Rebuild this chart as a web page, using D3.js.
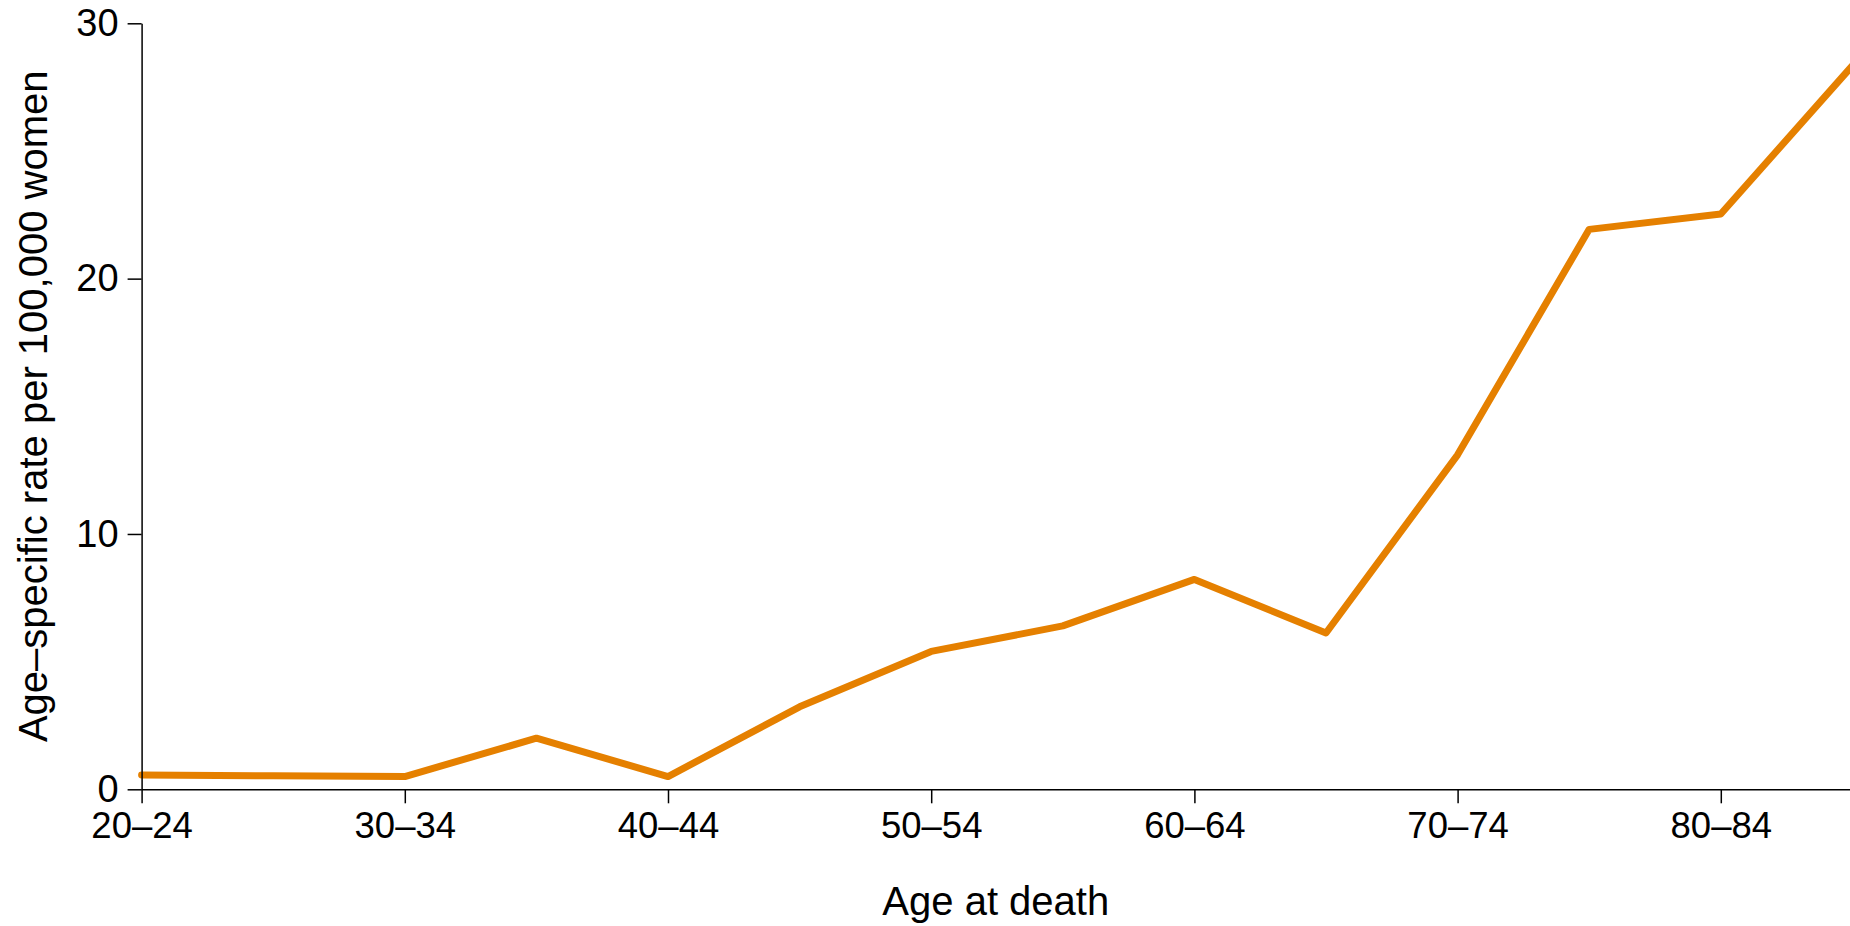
<!DOCTYPE html>
<html>
<head>
<meta charset="utf-8">
<script src="https://cdn.jsdelivr.net/npm/d3@7"></script>
<style>
  html, body { margin: 0; padding: 0; background: #fff; }
  svg { display: block; font-family: "Liberation Sans", Arial, Helvetica, sans-serif; }
</style>
</head>
<body>
<svg id="chart" width="1850" height="926"></svg>
<script>
const categories = ["20–24","25–29","30–34","35–39","40–44","45–49","50–54","55–59","60–64","65–69","70–74","75–79","80–84","85–89"];
const rates = [0.56, 0.53, 0.5, 2.0, 0.5, 3.23, 5.4, 6.4, 8.22, 6.12, 13.1, 21.93, 22.53, 28.34];
const xTickLabels = ["20–24","30–34","40–44","50–54","60–64","70–74","80–84"];
const yTicks = [0, 10, 20, 30];
const xTitle = "Age at death";
const yTitle = "Age–specific rate per 100,000 women";

(function () {
const svg = d3.select("#chart");
const W = 1850;
const mLeft = 141.6, mTop = 23.3, mBottom = 789.3;
const step = 131.6;

const x = d3.scalePoint()
  .domain(categories)
  .range([mLeft, mLeft + step * (categories.length - 1)]);
const y = d3.scaleLinear().domain([0, 30]).range([mBottom, mTop]);

// line
const line = d3.line()
  .x((d, i) => x(categories[i]))
  .y(d => y(d));
svg.append("path")
  .datum(rates)
  .attr("d", line)
  .attr("fill", "none")
  .attr("stroke", "#E58000")
  .attr("stroke-width", 7)
  .attr("stroke-linejoin", "round")
  .attr("stroke-linecap", "round");

// x axis
const xAxis = d3.axisBottom(x)
  .tickValues(xTickLabels)
  .tickSize(14)
  .tickPadding(8)
  .tickSizeOuter(0);
const gx = svg.append("g")
  .attr("transform", `translate(0,${mBottom})`)
  .call(xAxis);
gx.select(".domain").attr("d", `M${mLeft},0.5H${W + 10}`).attr("stroke-width", 1.5);
gx.selectAll(".tick line").attr("stroke-width", 1.5);
gx.selectAll(".tick text")
  .attr("font-size", 36.5)
  .attr("font-family", "Liberation Sans, Arial, sans-serif")
  .attr("fill", "#000")
  .attr("dy", "0.72em");

// y axis
const yAxis = d3.axisLeft(y)
  .tickValues(yTicks)
  .tickSize(14)
  .tickPadding(9)
  .tickSizeOuter(0);
const gy = svg.append("g")
  .attr("transform", `translate(${mLeft},0)`)
  .call(yAxis);
gy.select(".domain").attr("stroke-width", 1.5);
gy.selectAll(".tick line").attr("stroke-width", 1.5);
gy.selectAll(".tick text")
  .attr("font-size", 38)
  .attr("font-family", "Liberation Sans, Arial, sans-serif")
  .attr("fill", "#000");

// axis titles
svg.append("text")
  .attr("x", (mLeft + W) / 2)
  .attr("y", 915)
  .attr("text-anchor", "middle")
  .attr("font-size", 40)
  .attr("fill", "#000")
  .text(xTitle);

svg.append("text")
  .attr("transform", `translate(47,${(mTop + mBottom) / 2}) rotate(-90)`)
  .attr("text-anchor", "middle")
  .attr("font-size", 40)
  .attr("fill", "#000")
  .text(yTitle);
})();
</script>
</body>
</html>
